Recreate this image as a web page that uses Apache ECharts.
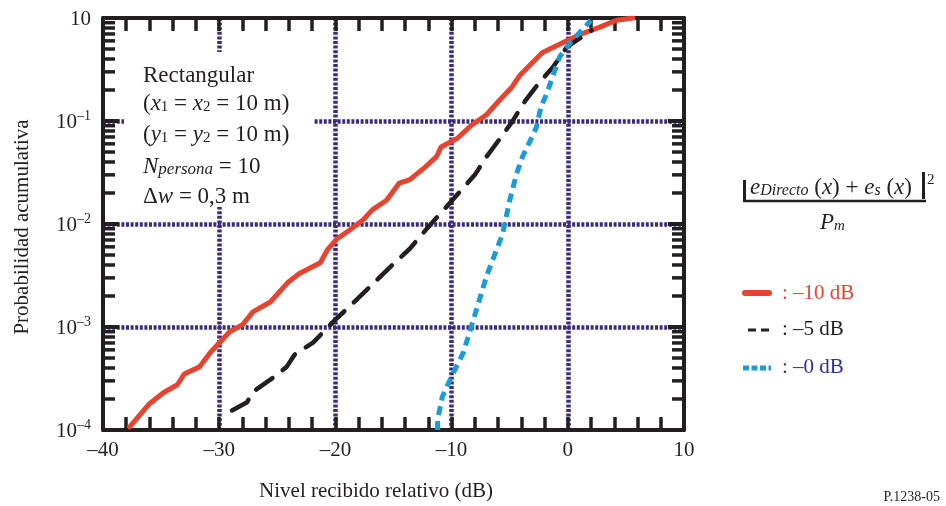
<!DOCTYPE html>
<html><head><meta charset="utf-8">
<script src="https://cdn.jsdelivr.net/npm/echarts@6/dist/echarts.min.js"></script>
<style>html,body{margin:0;padding:0;background:#fff}#c{width:946px;height:506px}</style>
</head><body><div id="c"></div>
<script>
// ---- data ----
const xMin = -40, xMax = 10, xInterval = 10;
const yMin = 1e-4, yMax = 1;
const yMinorMultipliers = [2, 3, 4, 5, 6, 7, 8, 9];
const yDecades = [1e-4, 1e-3, 1e-2, 1e-1];
const red10 = [
  [-37.7,1.07e-4],[-36.0,1.8e-4],[-34.8,2.3e-4],[-33.6,2.75e-4],[-33.0,3.5e-4],[-31.7,4.1e-4],
  [-30.8,5.6e-4],[-29.9,7.2e-4],[-29.1,9.0e-4],[-28.0,1.05e-3],[-27.1,1.4e-3],[-25.6,1.75e-3],
  [-24.1,2.7e-3],[-23.1,3.3e-3],[-21.3,4.2e-3],[-20.7,5.6e-3],[-19.9,7.1e-3],[-18.8,8.7e-3],
  [-17.6,1.1e-2],[-16.8,1.38e-2],[-15.6,1.7e-2],[-14.5,2.5e-2],[-13.6,2.7e-2],[-12.3,3.55e-2],
  [-11.3,4.5e-2],[-10.9,5.6e-2],[-9.5,6.8e-2],[-8.3,9.1e-2],[-7.0,0.115],[-5.9,0.158],
  [-4.8,0.214],[-4.1,0.28],[-2.2,0.46],[-0.45,0.575],[1.3,0.71],[2.7,0.81],[4.2,0.95],[5.6,1.0]
];
const black5 = [
  [-28.9,1.55e-4],[-27.6,1.86e-4],[-27.1,2.35e-4],[-25.4,3.2e-4],[-24.2,4.1e-4],[-23.5,5.4e-4],
  [-21.9,7.1e-4],[-20.2,1.12e-3],[-18.5,1.7e-3],[-16.8,2.6e-3],[-15.2,3.9e-3],[-13.6,5.75e-3],
  [-12.1,9.1e-3],[-9.3,2.05e-2],[-8.0,3.0e-2],[-7.0,4.5e-2],[-5.9,6.6e-2],[-4.8,9.8e-2],
  [-3.7,0.155],[-2.4,0.24],[-1.3,0.33],[-0.1,0.52],[2.05,0.76]
];
const blue0 = [
  [-11.2,1.0e-4],[-11.2,1.26e-4],[-10.8,2.1e-4],[-9.9,3.5e-4],[-9.0,5.6e-4],[-8.4,9.3e-4],
  [-7.8,1.55e-3],[-7.0,3.1e-3],[-5.9,6.6e-3],[-5.6,8.1e-3],[-5.0,1.7e-2],[-4.4,3.1e-2],
  [-3.9,4.5e-2],[-3.3,6.2e-2],[-2.7,8.7e-2],[-2.3,0.138],[-1.8,0.186],[-1.3,0.27],
  [-0.7,0.42],[0.2,0.575],[1.2,0.76],[2.0,0.95]
];
const legendLabels = [': –10 dB', ': –5 dB', ': –0 dB'];

// ---- styles ----
const FONT = 'Liberation Serif';
const AXIS = '#231f20';
const GRID = '#3b2a7d';
const RED = '#e8432e', BLK = '#231f20', BLUE = '#1b9bd7', NAVY = '#2e3192';

const yMinor = [];
yDecades.forEach(d => yMinorMultipliers.forEach(m => yMinor.push([xMin, d * m])));

const chart = echarts.init(document.getElementById('c'));

function yLabel(v) {
  const e = Math.round(Math.log10(v));
  if (e === 0) return '{b|10}';
  return '{b|10}{s|–' + (-e) + '}';
}
const axisLabelX = {
  fontFamily: FONT, fontSize: 21, color: AXIS, margin: 10,
  formatter: v => String(v).replace('-', '–')
};

const tickStyle = { color: AXIS, width: 3.5 };
const gridLine = { color: GRID, width: 4.5, type: [3, 1.6] };

chart.setOption({
  animation: false,
  backgroundColor: '#fff',
  grid: { left: 103, right: 262, top: 18, bottom: 76, containLabel: false },
  xAxis: [{
    type: 'value', min: xMin, max: xMax, interval: xInterval,
    axisLine: { show: true, onZero: false, lineStyle: { color: AXIS, width: 4 } },
    axisTick: { show: true, inside: true, length: 13, lineStyle: tickStyle },
    minorTick: { show: true, splitNumber: 5, length: 13, lineStyle: tickStyle },
    splitLine: { show: true, showMinLine: false, showMaxLine: false, lineStyle: gridLine },
    axisLabel: axisLabelX
  }, {
    type: 'value', min: xMin, max: xMax, interval: xInterval, position: 'top',
    axisLine: { show: true, onZero: false, lineStyle: { color: AXIS, width: 4 } },
    axisTick: { show: true, inside: true, length: 13, lineStyle: tickStyle },
    minorTick: { show: true, splitNumber: 5, length: 13, lineStyle: tickStyle },
    splitLine: { show: false }, axisLabel: { show: false }
  }],
  yAxis: [{
    type: 'log', logBase: 10, min: yMin, max: yMax, position: 'left',
    axisLine: { show: true, onZero: false, lineStyle: { color: AXIS, width: 4 } },
    axisTick: { show: true, inside: true, length: 16, lineStyle: { color: AXIS, width: 4 } },
    splitLine: { show: true, showMinLine: false, showMaxLine: false, lineStyle: gridLine },
    axisLabel: {
      margin: 12, formatter: yLabel,
      rich: {
        b: { fontFamily: FONT, fontSize: 21, color: AXIS, lineHeight: 24, verticalAlign: 'bottom' },
        s: { fontFamily: FONT, fontSize: 14, color: AXIS, lineHeight: 14, verticalAlign: 'top' }
      }
    }
  }, {
    type: 'log', logBase: 10, min: yMin, max: yMax, position: 'right',
    axisLine: { show: true, onZero: false, lineStyle: { color: AXIS, width: 4 } },
    axisTick: { show: true, inside: true, length: 16, lineStyle: { color: AXIS, width: 4 } },
    splitLine: { show: false }, axisLabel: { show: false }
  }],
  series: [
    {
      type: 'custom', xAxisIndex: 0, yAxisIndex: 0, data: yMinor, clip: false, z: 6, silent: true,
      renderItem: (params, api) => {
        const p = api.coord([api.value(0), api.value(1)]);
        const cs = params.coordSys;
        const L = 12;
        return { type: 'group', children: [
          { type: 'line', shape: { x1: cs.x, y1: p[1], x2: cs.x + L, y2: p[1] }, style: { stroke: AXIS, lineWidth: 3.5 } },
          { type: 'line', shape: { x1: cs.x + cs.width - L, y1: p[1], x2: cs.x + cs.width, y2: p[1] }, style: { stroke: AXIS, lineWidth: 3.5 } }
        ]};
      }
    },
    { name: '-10 dB', type: 'line', data: red10, showSymbol: false, smooth: false, z: 10,
      lineStyle: { color: RED, width: 5, cap: 'round', join: 'round' } },
    { name: '-5 dB', type: 'line', data: black5, showSymbol: false, smooth: false, z: 10,
      lineStyle: { color: BLK, width: 4.5, type: [20, 13], cap: 'round' } },
    { name: '0 dB', type: 'line', data: blue0, showSymbol: false, smooth: false, z: 10,
      lineStyle: { color: BLUE, width: 5, type: [9, 6] } }
  ],
  graphic: [
    // text box
    { type: 'rect', shape: { x: 124, y: 52, width: 189, height: 155 }, style: { fill: '#fff' }, z: 8 },
    { type: 'text', x: 143, y: 76, z: 9, style: { text: 'Rectangular', font: '23px "Liberation Serif"', fill: AXIS, verticalAlign: 'middle' } },
    { type: 'text', x: 143, y: 102, z: 9, style: {
      text: '{n|(}{i|x}{sb|1}{n| = }{i|x}{sb|2}{n| = 10 m)}', verticalAlign: 'middle',
      rich: {
        n: { fontFamily: FONT, fontSize: 23, fill: AXIS, lineHeight: 26, verticalAlign: 'bottom' },
        i: { fontFamily: FONT, fontSize: 23, fontStyle: 'italic', fill: AXIS, lineHeight: 26, verticalAlign: 'bottom' },
        sb: { fontFamily: FONT, fontSize: 15, fill: AXIS, lineHeight: 12, verticalAlign: 'bottom' }
      } } },
    { type: 'text', x: 143, y: 133, z: 9, style: {
      text: '{n|(}{i|y}{sb|1}{n| = }{i|y}{sb|2}{n| = 10 m)}', verticalAlign: 'middle',
      rich: {
        n: { fontFamily: FONT, fontSize: 23, fill: AXIS, lineHeight: 26, verticalAlign: 'bottom' },
        i: { fontFamily: FONT, fontSize: 23, fontStyle: 'italic', fill: AXIS, lineHeight: 26, verticalAlign: 'bottom' },
        sb: { fontFamily: FONT, fontSize: 15, fill: AXIS, lineHeight: 12, verticalAlign: 'bottom' }
      } } },
    { type: 'text', x: 143, y: 165, z: 9, style: {
      text: '{i|N}{sb|persona}{n| = 10}', verticalAlign: 'middle',
      rich: {
        n: { fontFamily: FONT, fontSize: 23, fill: AXIS, lineHeight: 26, verticalAlign: 'bottom' },
        i: { fontFamily: FONT, fontSize: 23, fontStyle: 'italic', fill: AXIS, lineHeight: 26, verticalAlign: 'bottom' },
        sb: { fontFamily: FONT, fontSize: 17, fontStyle: 'italic', fill: AXIS, lineHeight: 10, verticalAlign: 'bottom' }
      } } },
    { type: 'text', x: 143, y: 197, z: 9, style: {
      text: '{n|Δ}{i|w}{n| = 0,3 m}', verticalAlign: 'middle',
      rich: {
        n: { fontFamily: FONT, fontSize: 23, fill: AXIS, lineHeight: 26 },
        i: { fontFamily: FONT, fontSize: 23, fontStyle: 'italic', fill: AXIS, lineHeight: 26 }
      } } },
    // formula
    { type: 'rect', z: 4, shape: { x: 743, y: 180, width: 3, height: 20 }, style: { fill: AXIS } },
    { type: 'text', x: 750, y: 187, z: 4, style: {
      text: '{i|e}{sb|Directo}{n| (}{i|x}{n|) + }{i|e}{sbs|s}{n| (}{i|x}{n|)}', verticalAlign: 'middle',
      rich: {
        n: { fontFamily: FONT, fontSize: 23, fill: AXIS, lineHeight: 24, verticalAlign: 'bottom' },
        i: { fontFamily: FONT, fontSize: 23, fontStyle: 'italic', fill: AXIS, lineHeight: 24, verticalAlign: 'bottom' },
        sb: { fontFamily: FONT, fontSize: 16, fontStyle: 'italic', fill: AXIS, lineHeight: 10, verticalAlign: 'bottom' },
        sbs: { fontFamily: FONT, fontSize: 16, fontStyle: 'italic', fill: AXIS, lineHeight: 10, verticalAlign: 'bottom' }
      } } },
    { type: 'rect', z: 4, shape: { x: 922, y: 172, width: 3, height: 27 }, style: { fill: AXIS } },
    { type: 'text', x: 927, y: 180, z: 4, style: { text: '2', font: '15px "Liberation Serif"', fill: AXIS, verticalAlign: 'middle' } },
    { type: 'line', z: 4, shape: { x1: 743, y1: 201, x2: 926, y2: 201 }, style: { stroke: AXIS, lineWidth: 2.5 } },
    { type: 'text', x: 820, y: 222, z: 4, style: {
      text: '{i|P}{sb|m}', verticalAlign: 'middle',
      rich: {
        i: { fontFamily: FONT, fontSize: 23, fontStyle: 'italic', fill: AXIS, lineHeight: 24, verticalAlign: 'bottom' },
        sb: { fontFamily: FONT, fontSize: 15, fontStyle: 'italic', fill: AXIS, lineHeight: 10, verticalAlign: 'bottom' }
      } } },
    // legend
    { type: 'line', z: 4, shape: { x1: 745, y1: 293, x2: 769, y2: 293 }, style: { stroke: RED, lineWidth: 6, lineCap: 'round' } },
    { type: 'text', x: 782, y: 293, z: 4, style: { text: legendLabels[0], font: '21px "Liberation Serif"', fill: RED, verticalAlign: 'middle' } },
    { type: 'line', z: 4, shape: { x1: 748, y1: 330, x2: 769, y2: 330 }, style: { stroke: BLK, lineWidth: 3, lineDash: [8, 5] } },
    { type: 'text', x: 782, y: 329, z: 4, style: { text: legendLabels[1], font: '21px "Liberation Serif"', fill: BLK, verticalAlign: 'middle' } },
    { type: 'line', z: 4, shape: { x1: 743, y1: 368, x2: 771, y2: 368 }, style: { stroke: BLUE, lineWidth: 5, lineDash: [6, 2.5] } },
    { type: 'text', x: 782, y: 367, z: 4, style: { text: legendLabels[2], font: '21px "Liberation Serif"', fill: NAVY, verticalAlign: 'middle' } },
    // axis names
    { type: 'text', x: 22, y: 227, rotation: Math.PI / 2, z: 4, style: { text: 'Probabilidad acumulativa', font: '21px "Liberation Serif"', fill: AXIS, align: 'center', verticalAlign: 'middle' } },
    { type: 'text', x: 376, y: 491, z: 4, style: { text: 'Nivel recibido relativo (dB)', font: '21px "Liberation Serif"', fill: AXIS, align: 'center', verticalAlign: 'middle' } },
    { type: 'text', x: 940, y: 497, z: 4, style: { text: 'P.1238-05', font: '14px "Liberation Serif"', fill: AXIS, align: 'right', verticalAlign: 'middle' } }
  ]
});
</script></body></html>
